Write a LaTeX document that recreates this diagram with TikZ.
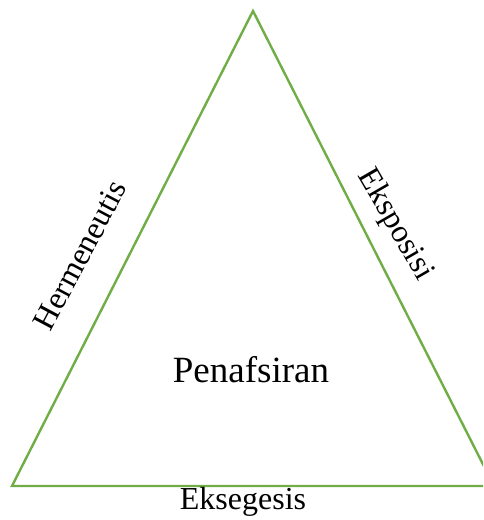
\documentclass[tikz,border=0pt]{standalone}
\usepackage{fontspec}
\setmainfont{Liberation Serif}
\definecolor{triGreen}{RGB}{112,173,71}
\begin{document}
\begin{tikzpicture}[x=1pt,y=1pt,
  side/.style={draw=triGreen,line width=2.4pt,line join=miter},
  lbl/.style={inner sep=0pt,font=\fontsize{32}{36}\selectfont}]
\useasboundingbox (0,0) rectangle (483,520);
\clip (0,0) rectangle (483,520);
\coordinate (top) at (253,509);
\coordinate (bl) at (12,34);
\coordinate (br) at (494,34);
\draw[side] (top) -- (bl) -- (br) -- cycle;
\node[lbl,font=\fontsize{37}{40}\selectfont] (center) at (251,150) {Penafsiran};
\node[lbl] (left) at (80,265) [rotate=62] {Hermeneutis};
\node[lbl] (right) at (395,295) [rotate=-60] {Eksposisi};
\node[lbl] (bottom) at (243,18) {Eksegesis};
\end{tikzpicture}
\end{document}
